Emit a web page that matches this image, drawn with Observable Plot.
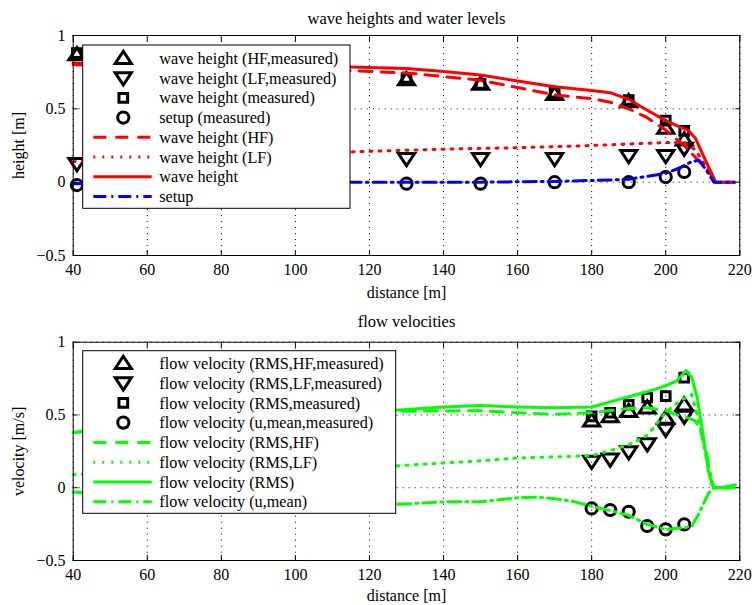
<!DOCTYPE html>
<html><head><meta charset="utf-8">
<script src="https://cdn.jsdelivr.net/npm/d3@7"></script>
<script src="https://cdn.jsdelivr.net/npm/@observablehq/plot@0.6"></script>
<style>
body{margin:0;background:#fff;}
#wrap{position:relative;width:752px;height:605px;overflow:hidden;font-family:"Liberation Serif","Times New Roman",serif;}
#wrap > svg{position:absolute;left:0;}
</style></head><body><div id="wrap"></div>
<script>
// ---------- axes ----------
const xTicks = [40, 60, 80, 100, 120, 140, 160, 180, 200, 220];
const yTicks = [-0.5, 0, 0.5, 1];

// ---------- top panel: measured ----------
const xMeas = [41, 130, 150, 170, 190, 200, 205];
const hHFMeas = [0.87, 0.70, 0.67, 0.60, 0.55, 0.37, 0.29];
const hLFMeas = [0.125, 0.16, 0.16, 0.16, 0.18, 0.18, 0.23];
const hMeas = [0.88, 0.71, 0.67, 0.61, 0.56, 0.42, 0.35];
const setupMeas = [-0.02, -0.01, -0.01, 0.0, 0.0, 0.035, 0.07];

// ---------- top panel: model lines ----------
const xHtot = [40, 60, 80, 100, 115, 130, 140, 150, 160, 170, 180, 185, 190, 195, 200, 203, 206, 208, 210, 212, 213.5, 218.5];
const hTot = [0.81, 0.80, 0.795, 0.79, 0.785, 0.775, 0.755, 0.73, 0.69, 0.65, 0.625, 0.61, 0.565, 0.49, 0.42, 0.385, 0.355, 0.30, 0.19, 0.08, 0.0, 0.0];
const xHHF = [40, 60, 80, 100, 115, 130, 140, 150, 160, 170, 180, 185, 190, 195, 200, 205, 208, 212, 213.5, 218.5];
const hHF = [0.80, 0.79, 0.78, 0.77, 0.76, 0.745, 0.72, 0.695, 0.645, 0.595, 0.57, 0.545, 0.50, 0.44, 0.355, 0.25, 0.17, 0.06, 0.0, 0.0];
const xHLF = [40, 60, 80, 100, 120, 140, 160, 180, 190, 200, 205, 208, 211, 213.5, 218.5];
const hLF = [0.14, 0.16, 0.18, 0.195, 0.21, 0.225, 0.235, 0.25, 0.26, 0.27, 0.27, 0.22, 0.10, 0.0, 0.0];
const xSetup = [40, 60, 100, 130, 150, 170, 185, 190, 195, 200, 204, 207, 209, 211, 213, 218.5];
const setup = [-0.01, 0, 0, 0, 0, 0.005, 0.015, 0.02, 0.04, 0.06, 0.10, 0.14, 0.15, 0.08, 0, 0];

// ---------- bottom panel: measured ----------
const xVel = [180, 185, 190, 195, 200, 205];
const vHFMeas = [0.46, 0.49, 0.525, 0.55, 0.48, 0.57];
const vLFMeas = [0.18, 0.195, 0.245, 0.30, 0.40, 0.49];
const vRMSMeas = [0.49, 0.515, 0.57, 0.62, 0.63, 0.757];
const uMeanMeas = [-0.142, -0.153, -0.165, -0.263, -0.286, -0.252];

// ---------- bottom panel: model lines ----------
const xVRMS = [40, 60, 80, 100, 127, 140, 150, 160, 170, 180, 185, 190, 195, 200, 203, 205.5, 207, 208.5, 210, 211.5, 212.5, 213.5, 216, 218.8];
const vRMS = [0.38, 0.44, 0.48, 0.51, 0.532, 0.555, 0.565, 0.555, 0.55, 0.555, 0.59, 0.625, 0.66, 0.70, 0.735, 0.805, 0.76, 0.62, 0.38, 0.12, 0.02, 0.0, 0.005, 0.02];
const xVHF = [40, 60, 80, 100, 127, 150, 160, 170, 180, 185, 190, 195, 200, 203, 206, 208, 209.5, 211, 212, 213, 218.5];
const vHF = [0.38, 0.43, 0.47, 0.50, 0.525, 0.53, 0.515, 0.505, 0.515, 0.53, 0.545, 0.55, 0.53, 0.50, 0.48, 0.46, 0.38, 0.25, 0.08, 0.0, 0.0];
const xVLF = [40, 60, 80, 100, 127, 140, 150, 160, 170, 180, 185, 190, 195, 197, 200, 204, 207, 209, 211, 213, 218.5];
const vLF = [0.09, 0.11, 0.125, 0.14, 0.15, 0.17, 0.185, 0.205, 0.212, 0.22, 0.255, 0.295, 0.36, 0.42, 0.52, 0.60, 0.64, 0.45, 0.2, 0, 0];
const xUMean = [40, 60, 80, 100, 127, 140, 150, 160, 165, 170, 175, 180, 185, 190, 195, 200, 205, 207, 208.5, 210, 211.5, 213, 218.5];
const uMean = [-0.03, -0.07, -0.09, -0.105, -0.115, -0.097, -0.097, -0.069, -0.065, -0.075, -0.094, -0.128, -0.157, -0.19, -0.252, -0.286, -0.275, -0.265, -0.2, -0.12, -0.04, 0, 0];

// ---------- texts ----------
const topTitle = "wave heights and water levels";
const botTitle = "flow velocities";
const xLabel = "distance [m]";
const topYLabel = "height [m]";
const botYLabel = "velocity [m/s]";
const topLegendLabels = ["wave height (HF,measured)", "wave height (LF,measured)", "wave height (measured)", "setup (measured)", "wave height (HF)", "wave height (LF)", "wave height", "setup"];
const botLegendLabels = ["flow velocity (RMS,HF,measured)", "flow velocity (RMS,LF,measured)", "flow velocity (RMS,measured)", "flow velocity (u,mean,measured)", "flow velocity (RMS,HF)", "flow velocity (RMS,LF)", "flow velocity (RMS)", "flow velocity (u,mean)"];

// ---------- symbols ----------
const rad = s => Math.sqrt(s / Math.PI);
const triUp = {draw(c, s) { const r = rad(s); c.moveTo(0, -r); c.lineTo(r * 1.15, r * 0.75); c.lineTo(-r * 1.15, r * 0.75); c.closePath(); }};
const triDown = {draw(c, s) { const r = rad(s); c.moveTo(0, r); c.lineTo(r * 1.15, -r * 0.75); c.lineTo(-r * 1.15, -r * 0.75); c.closePath(); }};
const sq = {draw(c, s) { const r = rad(s) * 0.62; c.rect(-r, -r, 2 * r, 2 * r); }};
const circ = {draw(c, s) { const r = rad(s) * 0.8; c.moveTo(r, 0); c.arc(0, 0, r, 0, 2 * Math.PI); }};

const DASH = "13,9", DOT = "2,7", DASHDOT = "13,5,2,5";
const zip = (xs, ys) => xs.map((x, i) => ({x, y: ys[i]}));
const fmtY = d => d < 0 ? "\u2212" + Math.abs(d) : String(d);

function panel({height, marginTop, marginBottom, title, titleDy, ylabel, markers, lines, xLabelOffset}) {
  const marks = [
    Plot.gridX(xTicks, {stroke: "black", strokeOpacity: 1, strokeDasharray: "1,5"}),
    Plot.gridY(yTicks, {stroke: "black", strokeOpacity: 1, strokeDasharray: "1,5"}),
    ...markers.map(m => Plot.dot(zip(m.x, m.y), {x: "x", y: "y", symbol: m.symbol, r: 7, stroke: "black", strokeWidth: 3, fill: "none"})),
    ...lines.map(l => Plot.line(zip(l.x, l.y), {x: "x", y: "y", stroke: l.color, strokeWidth: 3, strokeDasharray: l.dash})),
    Plot.frame({stroke: "black", strokeWidth: 1}),
    Plot.axisX(xTicks, {anchor: "bottom", tickSize: -5, tickPadding: 13, label: xLabel, labelAnchor: "center", labelArrow: "none", labelOffset: xLabelOffset}),
    Plot.axisX(xTicks, {anchor: "top", tickSize: -5, tickFormat: () => "", label: null}),
    Plot.axisY(yTicks, {anchor: "left", tickSize: -5, tickPadding: 12.7, tickFormat: fmtY, label: ylabel, labelAnchor: "center", labelArrow: "none", labelOffset: 60.7}),
    Plot.axisY(yTicks, {anchor: "right", tickSize: -5, tickFormat: () => "", label: null}),
    Plot.text([title], {frameAnchor: "top", lineAnchor: "middle", dy: titleDy, fontSize: 16.5})
  ];
  return Plot.plot({
    width: 752, height, marginTop, marginBottom, marginLeft: 72.7, marginRight: 12.7,
    style: {fontFamily: '"Liberation Serif", "Times New Roman", serif', fontSize: "16px", color: "black", background: "white", overflow: "visible"},
    x: {domain: [40, 220]},
    y: {domain: [-0.5, 1]},
    marks
  });
}

const topMarkers = [
  {x: xMeas, y: hHFMeas, symbol: triUp},
  {x: xMeas, y: hLFMeas, symbol: triDown},
  {x: xMeas, y: hMeas, symbol: sq},
  {x: xMeas, y: setupMeas, symbol: circ}
];
const topLines = [
  {x: xHHF, y: hHF, color: "#ff0000", dash: DASH},
  {x: xHLF, y: hLF, color: "#ff0000", dash: DOT},
  {x: xHtot, y: hTot, color: "#ff0000", dash: null},
  {x: xSetup, y: setup, color: "#0000ff", dash: DASHDOT}
];
const botMarkers = [
  {x: xVel, y: vHFMeas, symbol: triUp},
  {x: xVel, y: vLFMeas, symbol: triDown},
  {x: xVel, y: vRMSMeas, symbol: sq},
  {x: xVel, y: uMeanMeas, symbol: circ}
];
const botLines = [
  {x: xVHF, y: vHF, color: "#00ff00", dash: DASH},
  {x: xVLF, y: vLF, color: "#00ff00", dash: DOT},
  {x: xVRMS, y: vRMS, color: "#00ff00", dash: null},
  {x: xUMean, y: uMean, color: "#00ff00", dash: DASHDOT}
];

const wrap = document.getElementById("wrap");
const p1 = panel({height: 300, marginTop: 35, marginBottom: 45, title: topTitle, titleDy: -16.3, ylabel: topYLabel, markers: topMarkers, lines: topLines, xLabelOffset: 42});
p1.style.top = "0px";
wrap.appendChild(p1);
const p2 = panel({height: 305, marginTop: 41.7, marginBottom: 45, title: botTitle, titleDy: -20, ylabel: botYLabel, markers: botMarkers, lines: botLines, xLabelOffset: 40});
p2.style.top = "300px";
wrap.appendChild(p2);

// ---------- legends (overlay) ----------
const ov = d3.create("svg").attr("width", 752).attr("height", 605).style("top", "0px").style("pointer-events", "none");
function legend(box, markers, lines, labels) {
  const g = ov.append("g");
  g.append("rect").attr("x", box.left).attr("y", box.top).attr("width", box.width).attr("height", box.height)
    .attr("fill", "white").attr("stroke", "black").attr("stroke-width", 1);
  const items = [...markers.map(m => ({symbol: m.symbol})), ...lines.map(l => ({color: l.color, dash: l.dash}))];
  items.forEach((it, i) => {
    const y = box.rowTop + i * box.rowStep;
    if (it.symbol) {
      const p = d3.path(); it.symbol.draw(p, Math.PI * 49);
      g.append("path").attr("d", p.toString()).attr("transform", `translate(${box.markerX},${y})`)
        .attr("fill", "none").attr("stroke", "black").attr("stroke-width", 3);
    } else {
      g.append("line").attr("x1", box.lineX1).attr("x2", box.lineX2).attr("y1", y).attr("y2", y)
        .attr("stroke", it.color).attr("stroke-width", 3).attr("stroke-dasharray", it.dash);
    }
    g.append("text").attr("x", box.textX).attr("y", y).attr("dy", "0.35em")
      .attr("font-family", '"Liberation Serif", "Times New Roman", serif').attr("font-size", 16.2).text(labels[i]);
  });
}
legend({left: 82.7, top: 45, width: 267.3, height: 163.3, rowTop: 58.3, rowStep: 19.75, markerX: 123.3, lineX1: 93.3, lineX2: 151.7, textX: 159.3}, topMarkers, topLines, topLegendLabels);
legend({left: 82.7, top: 350.7, width: 313, height: 162.6, rowTop: 363.3, rowStep: 19.77, markerX: 123.3, lineX1: 93.3, lineX2: 151.7, textX: 159.3}, botMarkers, botLines, botLegendLabels);
wrap.appendChild(ov.node());
</script>
</body></html>
